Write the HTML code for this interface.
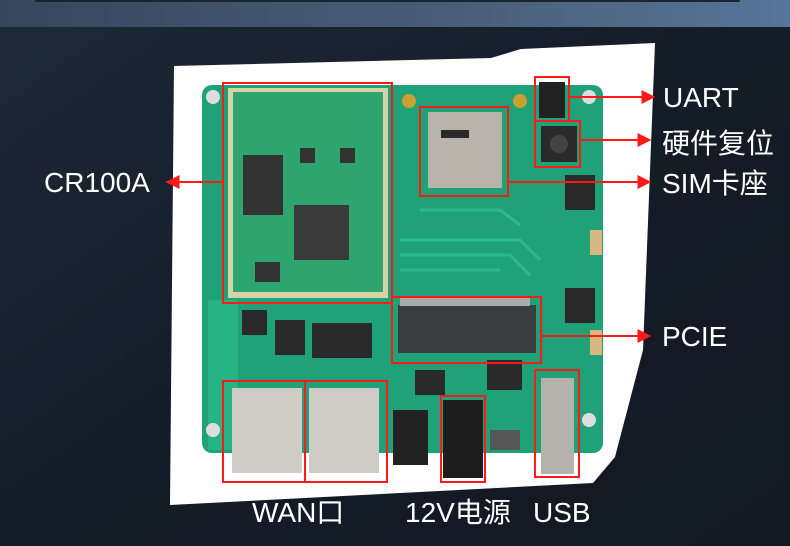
<!DOCTYPE html>
<html><head><meta charset="utf-8"><style>
html,body{margin:0;padding:0;width:790px;height:546px;overflow:hidden;background:#1d2633}
svg{display:block}
text{font-family:"Liberation Sans","Noto Sans CJK SC",sans-serif;fill:#fff}
</style></head><body>
<svg width="790" height="546" viewBox="0 0 790 546" xmlns="http://www.w3.org/2000/svg">
<defs>
<linearGradient id="bg" x1="0" y1="0" x2="1" y2="1">
<stop offset="0" stop-color="#1f2a38"/><stop offset="0.5" stop-color="#141c27"/><stop offset="1" stop-color="#121923"/>
</linearGradient>
<linearGradient id="top" x1="0" y1="0" x2="1" y2="0">
<stop offset="0" stop-color="#35475d"/><stop offset="0.6" stop-color="#4a5f78"/><stop offset="1" stop-color="#56769a"/>
</linearGradient>
<marker id="ar" viewBox="0 0 10 10" refX="9" refY="5" markerWidth="7" markerHeight="7" orient="auto"><path d="M0,0L10,5L0,10z" fill="#ff1a1a"/></marker>
</defs>
<rect width="790" height="546" fill="url(#bg)"/>
<rect width="790" height="27" fill="url(#top)"/>
<rect x="35" y="0" width="705" height="2" rx="1" fill="#1b2430"/>
<polygon points="174,66 491,58 521,49 655,43 643,350 615,457 593,483 170,505" fill="#fff"/>
<rect x="202" y="85" width="401" height="368" rx="10" fill="#1fa278"/>
<rect x="208" y="300" width="30" height="150" fill="#26b484"/>
<g stroke="#2bb98a" stroke-width="3" fill="none">
<path d="M400 240 L520 240 L540 260"/><path d="M400 255 L510 255 L530 275"/><path d="M400 270 L500 270"/><path d="M420 210 L500 210 L520 225"/>
</g>
<g fill="#ddd"><circle cx="213" cy="97" r="7"/><circle cx="589" cy="97" r="7"/><circle cx="589" cy="420" r="7"/><circle cx="213" cy="430" r="7"/></g>
<g fill="#c8a032"><circle cx="409" cy="101" r="7"/><circle cx="520" cy="101" r="7"/></g>
<rect x="228" y="88" width="160" height="210" fill="#d8d2a8"/>
<rect x="233" y="92" width="150" height="200" fill="#2ea46f"/>
<rect x="243" y="155" width="40" height="60" fill="#333"/>
<rect x="294" y="205" width="55" height="55" fill="#3a3a3a"/>
<rect x="300" y="148" width="15" height="15" fill="#333"/><rect x="340" y="148" width="15" height="15" fill="#333"/>
<rect x="255" y="262" width="25" height="20" fill="#333"/>
<rect x="428" y="112" width="74" height="76" fill="#b8b4ac"/>
<rect x="441" y="130" width="28" height="8" fill="#2a2a2a"/>
<rect x="539" y="82" width="26" height="36" fill="#222"/>
<rect x="541" y="126" width="36" height="36" fill="#2a2a2a"/><circle cx="559" cy="144" r="9" fill="#444"/>
<rect x="565" y="175" width="30" height="35" fill="#2a2a2a"/><rect x="565" y="288" width="30" height="35" fill="#2a2a2a"/>
<rect x="590" y="230" width="12" height="25" fill="#d8b880"/><rect x="590" y="330" width="12" height="25" fill="#d8b880"/>
<rect x="398" y="305" width="138" height="48" fill="#3a3d3e"/>
<rect x="400" y="298" width="130" height="8" fill="#aaa"/>
<rect x="242" y="310" width="25" height="25" fill="#2a2a2a"/><rect x="275" y="320" width="30" height="35" fill="#2a2a2a"/>
<rect x="312" y="323" width="60" height="35" fill="#2a2a2a"/>
<rect x="415" y="370" width="30" height="25" fill="#2a2a2a"/><rect x="487" y="360" width="35" height="30" fill="#2a2a2a"/>
<rect x="232" y="388" width="70" height="85" fill="#cfccc6"/>
<rect x="309" y="388" width="70" height="85" fill="#cfccc6"/>
<rect x="393" y="410" width="35" height="55" fill="#222"/>
<rect x="443" y="400" width="40" height="78" fill="#1d1d1d"/>
<rect x="490" y="430" width="30" height="20" fill="#555"/>
<rect x="541" y="378" width="33" height="96" fill="#b5b2ad"/>
<g fill="none" stroke="#ff1a1a" stroke-width="2">
<rect x="223" y="83" width="169" height="220"/>
<rect x="420" y="107" width="88" height="89"/>
<rect x="535" y="77" width="34" height="44"/>
<rect x="535" y="121" width="45" height="46"/>
<rect x="392" y="297" width="149" height="66"/>
<rect x="223" y="381" width="82" height="101"/>
<rect x="305" y="381" width="82" height="101"/>
<rect x="441" y="396" width="44" height="86"/>
<rect x="535" y="370" width="44" height="107"/>
</g>
<g stroke="#ff1a1a" stroke-width="2" marker-end="url(#ar)">
<line x1="569" y1="97" x2="654" y2="97"/>
<line x1="580" y1="140" x2="650" y2="140"/>
<line x1="508" y1="182" x2="650" y2="182"/>
<line x1="541" y1="336" x2="650" y2="336"/>
<line x1="223" y1="182" x2="167" y2="182"/>
</g>
<g font-size="28">
<text x="663" y="107">UART</text>
<text x="662" y="153">硬件复位</text>
<text x="662" y="193">SIM卡座</text>
<text x="662" y="346">PCIE</text>
<text x="44" y="192">CR100A</text>
<text x="252" y="522">WAN口</text>
<text x="405" y="522">12V电源</text>
<text x="533" y="522">USB</text>
</g>
</svg>
</body></html>
